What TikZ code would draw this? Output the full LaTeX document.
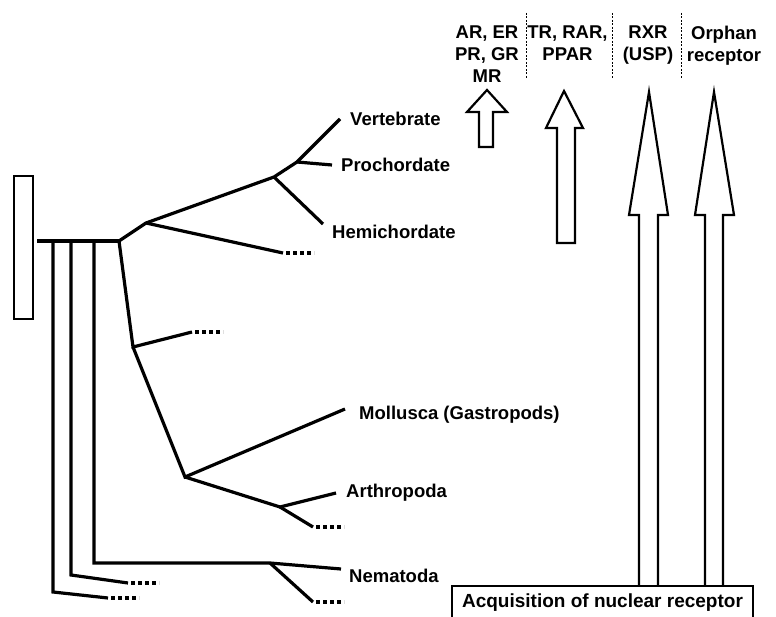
\documentclass[tikz,border=0pt]{standalone}
\usepackage{fontspec}
\setmainfont{Liberation Sans}
\usetikzlibrary{positioning}
\tikzset{
  branch/.style={line width=3.2pt,line cap=butt},
  etc/.style={line width=3.5pt,dash pattern=on 4pt off 3pt},
  taxon/.style={anchor=base west,inner sep=0pt,font=\fontsize{18.5}{22}\selectfont\bfseries},
  family/.style={anchor=north,inner sep=0pt,align=center,font=\fontsize{18.5}{22}\selectfont\bfseries},
  sep/.style={line width=1pt,dash pattern=on 2pt off 1.5pt},
  recarrow/.style={line width=2.2pt,line join=miter},
}

\begin{document}
\begin{tikzpicture}[x=1pt,y=-1pt]
  \useasboundingbox (0,0) rectangle (776,617);

  % ancestor bar and stem
  \node[draw,line width=1.8pt,minimum width=19pt,minimum height=143pt,inner sep=0pt] (bar) at (23.5,247.5) {};
  \coordinate (stem) at (37,241);
  \coordinate (root) at (119,241);
  \draw[branch] (stem) -- (root);

  % branch points
  \coordinate (deu)  at (146,223);
  \coordinate (chor) at (274,177);
  \coordinate (vp)   at (297,162);
  \coordinate (pro)  at (133,347);
  \coordinate (mol)  at (185,477);
  \coordinate (art)  at (280,507);
  \coordinate (nem)  at (270,563);

  % leaf ends
  \coordinate (vEnd) at (340,119);
  \coordinate (pEnd) at (332,165);
  \coordinate (hEnd) at (323,224);
  \coordinate (mEnd) at (345,409);
  \coordinate (aEnd) at (336,493);
  \coordinate (nEnd) at (341,569);

  \node[taxon] (vert) at (350,126) {Vertebrate};
  \node[taxon] (proc) at (341,172) {Prochordate};
  \node[taxon] (hemi) at (332,239) {Hemichordate};
  \node[taxon] (moll) at (359,419) {Mollusca (Gastropods)};
  \node[taxon] (arth) at (346,497) {Arthropoda};
  \node[taxon] (nema) at (349,582) {Nematoda};

  \draw[branch] (root) -- (deu) -- (chor) -- (vp) -- (vEnd);
  \draw[branch] (vp) -- (pEnd);
  \draw[branch] (chor) -- (hEnd);
  \draw[branch] (deu) -- (283,253) coordinate (e1);
  \draw[branch] (root) -- (pro) -- (192,332) coordinate (e2);
  \draw[branch] (pro) -- (mol) -- (mEnd);
  \draw[branch] (mol) -- (art) -- (aEnd);
  \draw[branch] (art) -- (313,527) coordinate (e3);

  % basal lineages
  \draw[branch] (53,241) -- (53,592) -- (108,598) coordinate (e4);
  \draw[branch] (71,241) -- (71,575) -- (128,583) coordinate (e5);
  \draw[branch] (94,241) -- (94,563) -- (nem) -- (nEnd);
  \draw[branch] (nem) -- (313,602) coordinate (e6);

  % unnamed lineages
  \draw[etc] ([xshift=3pt]e1) -- ++(28,0);
  \draw[etc] ([xshift=3pt]e2) -- ++(28,0);
  \draw[etc] ([xshift=3pt]e3) -- ++(28,0);
  \draw[etc] ([xshift=3pt]e4) -- ++(28,0);
  \draw[etc] ([xshift=3pt]e5) -- ++(28,0);
  \draw[etc] ([xshift=3pt]e6) -- ++(28,0);

  % receptor families
  \node[family] (ster) at (487,26) {AR, ER\\PR, GR\\MR};
  \node[family] (thyr) at (567.5,26) {TR, RAR,\\PPAR};
  \node[family] (rxr)  at (648,26) {RXR\\(USP)};
  \node[family] (orph) at (724,26) {Orphan\\receptor};
  \draw[sep] (526,13) -- (526,78);
  \draw[sep] (612,13) -- (612,78);
  \draw[sep] (681,13) -- (681,78);

  \node[draw,line width=1.5pt,minimum width=301pt,minimum height=34pt,inner sep=0pt,
        font=\fontsize{19}{22}\selectfont\bfseries] (acq) at (602.5,603) {Acquisition of nuclear receptor};

  \draw[recarrow] (479,147) -- (479,112) -- (467,112) -- (487,90) -- (507,112) -- (493,112) -- (493,147) -- cycle;
  \draw[recarrow] (557,243) -- (557,128) -- (546,128) -- (564,91) -- (583,128) -- (575,128) -- (575,243) -- cycle;
  \draw[recarrow] (acq.north -| 639,0) -- (639,215) -- (629,215) -- (649,92) -- (668,215) -- (658,215) -- (acq.north -| 658,0);
  \draw[recarrow] (acq.north -| 705,0) -- (705,215) -- (695,215) -- (714,92) -- (734,215) -- (723,215) -- (acq.north -| 723,0);
\end{tikzpicture}
\end{document}
